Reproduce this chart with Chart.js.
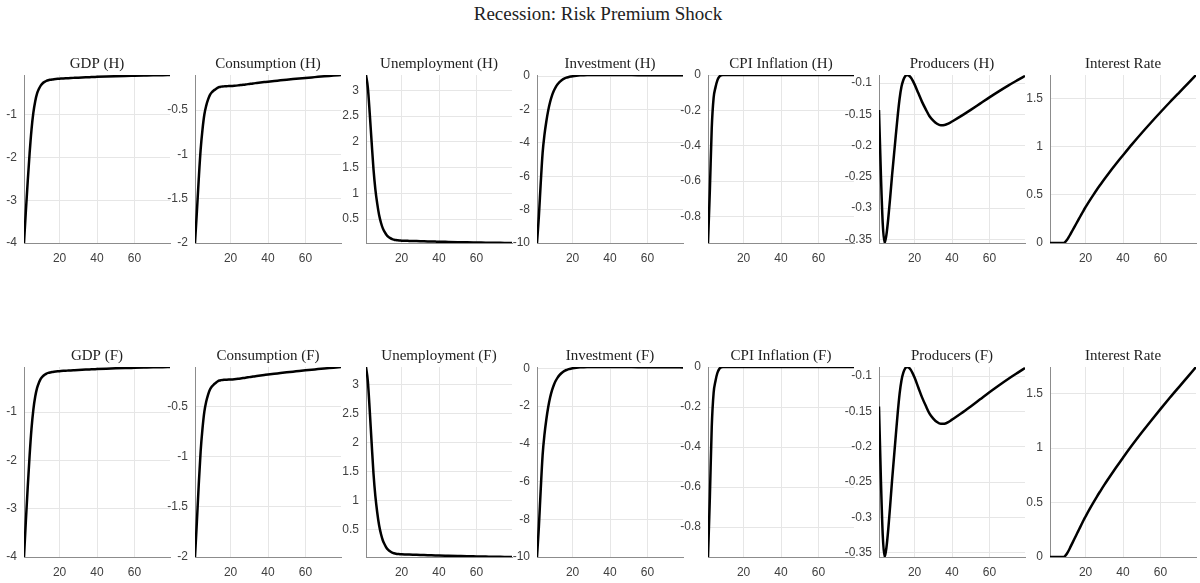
<!DOCTYPE html>
<html>
<head>
<meta charset="utf-8">
<script src="https://cdn.jsdelivr.net/npm/chart.js@4.4.1/dist/chart.umd.min.js"></script>
<style>
    body { margin: 0; background: #fff; }
    #page { position: relative; width: 1200px; height: 583px; overflow: hidden; }
    #page canvas { position: absolute; }
    .suptitle {
        position: absolute; left: 0; top: 3px; width: 1196px;
        text-align: center; color: #222;
        font: 19px 'Liberation Serif', 'Times New Roman', serif;
    }
</style>
</head>
<body>
<div id="page">
    <div class="suptitle">Recession: Risk Premium Shock</div>
</div>
<script>
// quarters after the shock
const periods = [1, 2, 3, 4, 5, 6, 7, 8, 9, 10, 11, 12, 13, 14, 15, 16, 17, 18, 19, 20,
    22, 24, 26, 28, 30, 32, 34, 36, 38, 40, 45, 50, 55, 60, 65, 70, 75, 79];

const gdp = [-4.0, -3.25, -2.55, -1.9, -1.35, -0.95, -0.68, -0.5, -0.39, -0.31, -0.26, -0.23, -0.205, -0.19, -0.18, -0.172, -0.166, -0.161, -0.157, -0.154,
    -0.148, -0.143, -0.138, -0.134, -0.13, -0.126, -0.122, -0.118, -0.115, -0.111, -0.103, -0.096, -0.09, -0.085, -0.08, -0.075, -0.071, -0.068];
const consumption = [-2.0, -1.65, -1.28, -0.95, -0.72, -0.55, -0.45, -0.38, -0.33, -0.3, -0.28, -0.265, -0.25, -0.24, -0.236, -0.234, -0.232, -0.231, -0.23, -0.229,
    -0.226, -0.222, -0.217, -0.212, -0.206, -0.2, -0.195, -0.19, -0.185, -0.18, -0.169, -0.158, -0.148, -0.138, -0.129, -0.12, -0.112, -0.105];
const unemployment = [3.3, 3.05, 2.55, 2.0, 1.47, 1.08, 0.8, 0.58, 0.43, 0.32, 0.25, 0.19, 0.155, 0.13, 0.11, 0.1, 0.093, 0.088, 0.085, 0.082,
    0.079, 0.077, 0.075, 0.073, 0.071, 0.069, 0.067, 0.065, 0.063, 0.061, 0.057, 0.053, 0.049, 0.046, 0.043, 0.04, 0.038, 0.036];
const investment = [-10, -8.4, -6.4, -4.6, -3.5, -2.7, -2.05, -1.55, -1.17, -0.88, -0.66, -0.49, -0.36, -0.26, -0.18, -0.12, -0.08, -0.045, -0.02, 0.0,
    0.03, 0.05, 0.06, 0.065, 0.068, 0.07, 0.07, 0.07, 0.07, 0.07, 0.068, 0.065, 0.062, 0.06, 0.058, 0.055, 0.053, 0.05];
const cpiInflation = [-0.95, -0.65, -0.3, -0.13, -0.07, -0.03, -0.01, -0.002, 0, 0, 0, 0, 0, 0, 0, 0, 0, 0, 0, 0,
    0, 0, 0, 0, 0, 0, 0, 0, 0, 0, 0, 0, 0, 0, 0, 0, 0, 0];
const producers = [-0.143, -0.245, -0.325, -0.356, -0.342, -0.315, -0.282, -0.247, -0.215, -0.183, -0.152, -0.125, -0.106, -0.095, -0.089, -0.087, -0.088, -0.091, -0.096, -0.102,
    -0.116, -0.13, -0.142, -0.153, -0.16, -0.165, -0.1675, -0.1672, -0.165, -0.1615, -0.1525, -0.1428, -0.1328, -0.1228, -0.1132, -0.104, -0.0953, -0.0885];
const interestRate = [0, 0, 0, 0, 0, 0, 0, 0, 0.008, 0.03, 0.06, 0.095, 0.13, 0.165, 0.2, 0.235, 0.27, 0.305, 0.34, 0.372,
    0.435, 0.495, 0.553, 0.608, 0.662, 0.714, 0.765, 0.815, 0.864, 0.912, 1.03, 1.143, 1.252, 1.358, 1.462, 1.563, 1.663, 1.745];

// tick labels
const xTicks = [20, 40, 60];
const gdpTicks = [-4, -3, -2, -1];
const consumptionTicks = [-2, -1.5, -1, -0.5];
const unemploymentTicks = [0.5, 1, 1.5, 2, 2.5, 3];
const investmentTicks = [-10, -8, -6, -4, -2, 0];
const cpiTicks = [-0.8, -0.6, -0.4, -0.2, 0];
const producersTicks = [-0.35, -0.3, -0.25, -0.2, -0.15, -0.1];
const interestTicks = [0, 0.5, 1, 1.5];

const homeTitles = ['GDP (H)', 'Consumption (H)', 'Unemployment (H)', 'Investment (H)', 'CPI Inflation (H)', 'Producers (H)', 'Interest Rate'];
const foreignTitles = ['GDP (F)', 'Consumption (F)', 'Unemployment (F)', 'Investment (F)', 'CPI Inflation (F)', 'Producers (F)', 'Interest Rate'];

const seriesList = [gdp, consumption, unemployment, investment, cpiInflation, producers, interestRate];
const tickList = [gdpTicks, consumptionTicks, unemploymentTicks, investmentTicks, cpiTicks, producersTicks, interestTicks];

const page = document.getElementById('page');
const axW = 146;
const padL = 45;
const padT = 25;
const padB = 25;
const padR = 6;
const tickFont = { family: "'Liberation Sans', Arial, sans-serif", size: 12 };

function drawPanel(title, values, yTicks, left, top, height) {
    const canvas = document.createElement('canvas');
    canvas.width = padL + axW + padR;
    canvas.height = padT + height + padB;
    canvas.style.left = `${left - padL}px`;
    canvas.style.top = `${top - padT}px`;
    page.appendChild(canvas);

    const points = periods.map((p, i) => ({ x: p, y: values[i] }));

    return new Chart(canvas, {
        type: 'line',
        data: {
            datasets: [{
                data: points,
                borderColor: '#000',
                borderWidth: 2.5,
                pointRadius: 0,
                fill: false,
                cubicInterpolationMode: 'monotone',
            }],
        },
        options: {
            responsive: false,
            animation: false,
            devicePixelRatio: 1,
            layout: { padding: { left: 0, right: padR, top: 0, bottom: 0 } },
            plugins: {
                legend: { display: false },
                tooltip: { enabled: false },
                title: {
                    display: true,
                    text: title,
                    fullSize: false,
                    color: '#222',
                    font: { family: "'Liberation Serif', 'Times New Roman', serif", size: 15, weight: 'normal' },
                    padding: { top: 5, bottom: 2 },
                },
            },
            scales: {
                x: {
                    type: 'linear',
                    min: 1,
                    max: 79,
                    afterBuildTicks: (axis) => { axis.ticks = xTicks.map((v) => ({ value: v })); },
                    afterFit: (axis) => { axis.height = padB; },
                    grid: { color: '#e6e6e6', drawTicks: false },
                    border: { color: '#8c8c8c', width: 1 },
                    ticks: { color: '#404040', font: tickFont, padding: 8, maxRotation: 0, callback: (v) => String(v) },
                },
                y: {
                    min: Math.min(...values),
                    max: Math.max(...values),
                    afterBuildTicks: (axis) => { axis.ticks = yTicks.map((v) => ({ value: v })); },
                    afterFit: (axis) => { axis.width = padL; },
                    grid: { color: '#e6e6e6', drawTicks: false },
                    border: { color: '#8c8c8c', width: 1 },
                    ticks: { color: '#404040', font: tickFont, padding: 7, callback: (v) => String(v) },
                },
            },
        },
    });
}

const rows = [
    { titles: homeTitles, top: 75, height: 168 },
    { titles: foreignTitles, top: 367, height: 190 },
];

rows.forEach((row) => {
    seriesList.forEach((values, i) => {
        drawPanel(row.titles[i], values, tickList[i], 24 + i * 171, row.top, row.height);
    });
});
</script>
</body>
</html>
